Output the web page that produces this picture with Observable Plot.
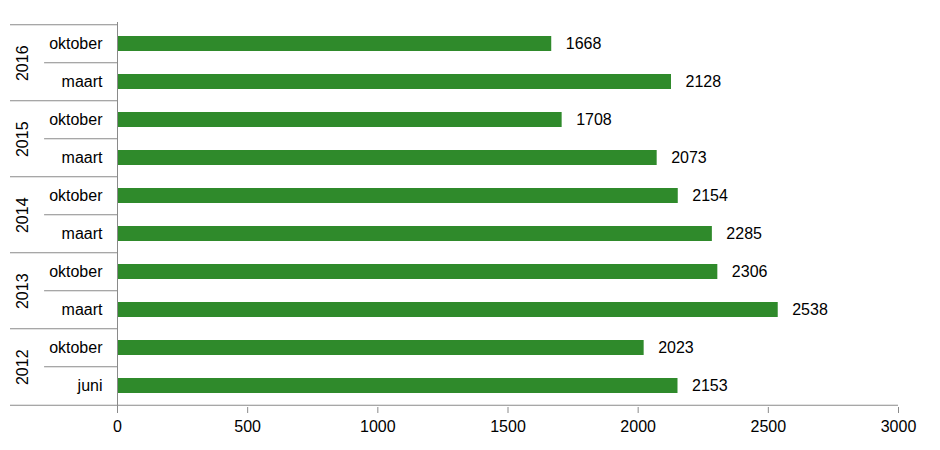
<!DOCTYPE html>
<html>
<head>
<meta charset="utf-8">
<script src="https://cdn.jsdelivr.net/npm/d3@7"></script>
<script src="https://cdn.jsdelivr.net/npm/@observablehq/plot@0.6"></script>
<style>
  html, body { margin: 0; padding: 0; background: #fff; }
  #chart { width: 940px; height: 450px; }
</style>
</head>
<body>
<div id="chart"></div>
<script>
const years  = ["2016", "2016", "2015", "2015", "2014", "2014", "2013", "2013", "2012", "2012"];
const months = ["oktober", "maart", "oktober", "maart", "oktober", "maart", "oktober", "maart", "oktober", "juni"];
const values = [1668, 2128, 1708, 2073, 2154, 2285, 2306, 2538, 2023, 2153];
const xTicks = [0, 500, 1000, 1500, 2000, 2500, 3000];

const data = years.map((y, i) => ({ key: y + " " + months[i], year: y, month: months[i], value: values[i] }));
const firstOfYear = data.filter((d, i) => i === 0 || data[i - 1].year !== d.year);
const withinYear = data.filter((d, i) => i > 0 && data[i - 1].year === d.year);
const lastRow = [data[data.length - 1]];

const green = "#2f8a2b";
const grey = "#8a8a8a";
const halfStep = 19.25;

const chart = Plot.plot({
  width: 940,
  height: 450,
  marginLeft: 117,
  marginRight: 42,
  marginTop: 22,
  marginBottom: 43,
  style: { fontFamily: "'Liberation Sans', Arial, sans-serif", fontSize: "16px", color: "#000", background: "#fff", overflow: "visible" },
  x: { domain: [0, 3000], ticks: xTicks, label: null, axis: null },
  y: { domain: data.map(d => d.key), paddingInner: 0.61, paddingOuter: 0.305, axis: null, label: null },
  marks: [
    Plot.barX(data, { y: "key", x: "value", fill: green }),
    Plot.text(data, { y: "key", x: "value", text: d => String(d.value), textAnchor: "start", dx: 14, fontSize: 16, fill: "#000" }),
    Plot.text(data, { y: "key", x: 0, text: "month", textAnchor: "end", dx: -15, fontSize: 16, fill: "#000" }),
    Plot.text(firstOfYear, { y: "key", x: 0, text: "year", dx: -95, dy: halfStep, rotate: -90, fontSize: 16, fill: "#000" }),
    Plot.ruleY(firstOfYear, { y: "key", dy: -halfStep, x1: -411, x2: 0, stroke: grey }),
    Plot.ruleY(withinYear, { y: "key", dy: -halfStep, x1: -280, x2: 0, stroke: grey }),
    Plot.ruleY(lastRow, { y: "key", dy: halfStep, x1: -411, x2: 3000, stroke: grey }),
    Plot.ruleX([0], { stroke: grey }),
    Plot.axisX({ ticks: xTicks, tickFormat: d => String(d), tickSize: 6, tickPadding: 7, stroke: grey, fill: "#000", fontSize: 16, label: null })
  ]
});
document.getElementById("chart").appendChild(chart);
</script>
</body>
</html>
